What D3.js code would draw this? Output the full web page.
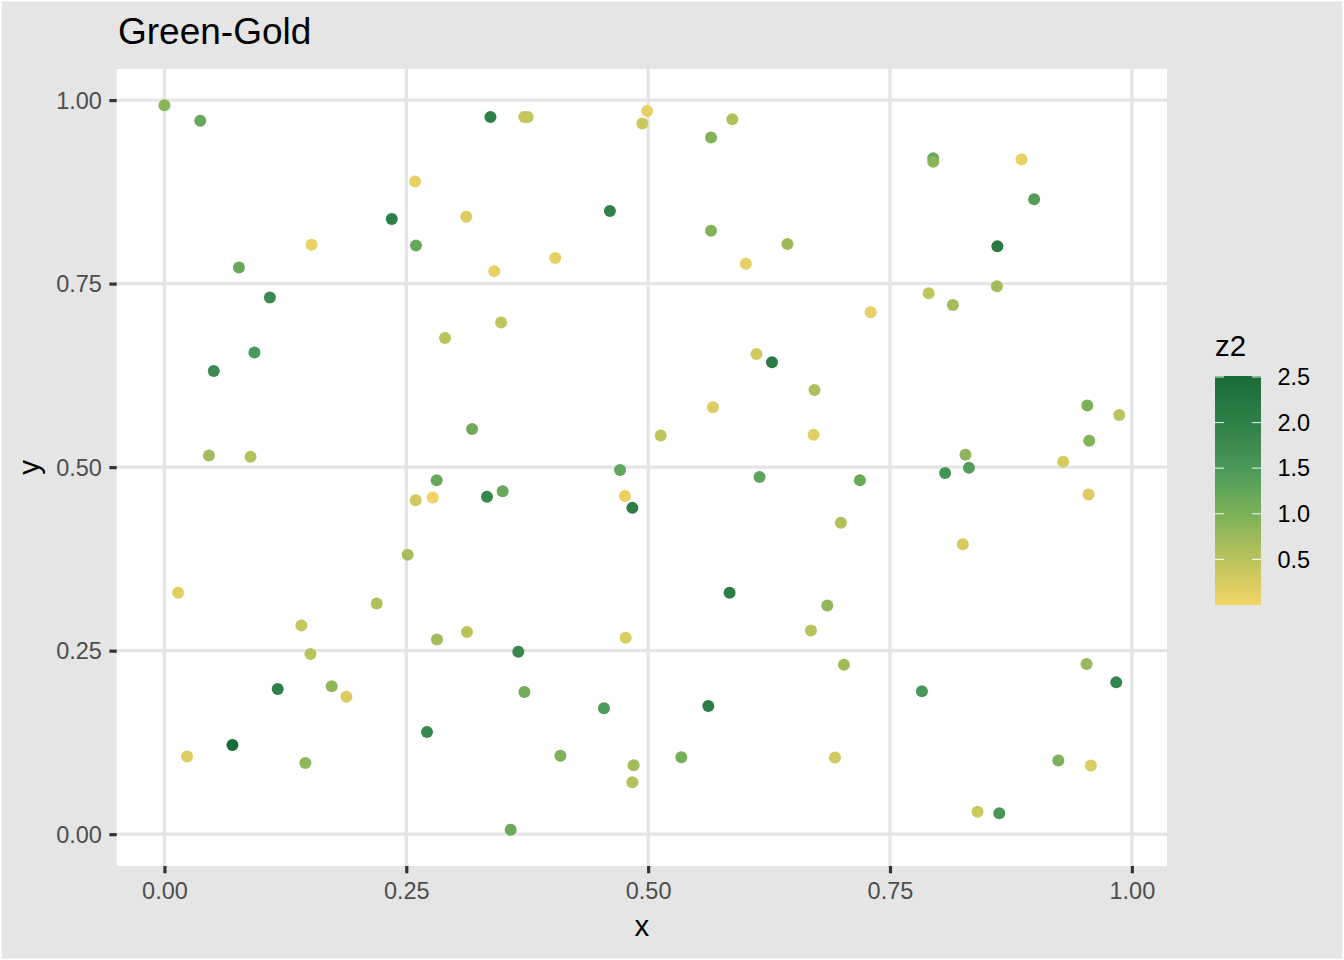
<!DOCTYPE html>
<html lang="en">
<head>
    <meta charset="UTF-8" />
    <title>Green-Gold</title>
    <script src="https://d3js.org/d3.v7.min.js"></script>
    <style>
        body { margin: 0; background: #ffffff; }
        text { font-family: "Liberation Sans", Arial, sans-serif; }
    </style>
</head>

<body>
    <script>
        // data
        var xs = [0.000, 0.037, 0.259, 0.235, 0.312, 0.152, 0.260, 0.077, 0.109, 0.290,
                  0.093, 0.051, 0.318, 0.046, 0.089, 0.337, 0.372, 0.3755, 0.499, 0.494,
                  0.587, 0.565, 0.4605, 0.565, 0.644, 0.404, 0.341, 0.601, 0.348, 0.612,
                  0.628, 0.672, 0.567, 0.513, 0.671, 0.471, 0.7947, 0.7947, 0.886, 0.899,
                  0.861, 0.8605, 0.790, 0.815, 0.730, 0.954, 0.987, 0.956, 0.828, 0.929,
                  0.8316, 0.807, 0.2814, 0.2597, 0.2773, 0.2514, 0.0141, 0.2194, 0.1416, 0.3127,
                  0.2817, 0.1509, 0.1171, 0.1729, 0.1881, 0.2714, 0.0703, 0.0234, 0.1457, 0.3496,
                  0.3334, 0.476, 0.4837, 0.6152, 0.5842, 0.4768, 0.6683, 0.3658, 0.3721, 0.4543,
                  0.5622, 0.4093, 0.485, 0.4837, 0.5343, 0.3579, 0.7189, 0.9553, 0.6993, 0.8253,
                  0.6852, 0.7024, 0.9532, 0.9839, 0.783, 0.6931, 0.924, 0.9576, 0.8405, 0.863];
        var ys = [0.993, 0.972, 0.889, 0.838, 0.841, 0.803, 0.802, 0.772, 0.731, 0.676,
                  0.656, 0.631, 0.552, 0.516, 0.514, 0.977, 0.977, 0.977, 0.985, 0.968,
                  0.974, 0.949, 0.849, 0.822, 0.804, 0.785, 0.767, 0.777, 0.697, 0.654,
                  0.643, 0.605, 0.5815, 0.543, 0.544, 0.496, 0.9207, 0.916, 0.919, 0.865,
                  0.801, 0.7465, 0.737, 0.721, 0.711, 0.584, 0.571, 0.536, 0.517, 0.5075,
                  0.499, 0.492, 0.482, 0.455, 0.4585, 0.3805, 0.3288, 0.3143, 0.2844, 0.2754,
                  0.2653, 0.2454, 0.1978, 0.2014, 0.1873, 0.1393, 0.1216, 0.1057, 0.0971, 0.4672,
                  0.4595, 0.4608, 0.4445, 0.4867, 0.3289, 0.2676, 0.2776, 0.2486, 0.1937, 0.1714,
                  0.1747, 0.1067, 0.0939, 0.0708, 0.1048, 0.006, 0.4822, 0.4626, 0.4241, 0.3951,
                  0.3116, 0.2309, 0.2318, 0.2068, 0.1946, 0.1044, 0.1003, 0.0935, 0.0305, 0.0286];
        var zs = [0.9, 1.2, 0.08, 2.0, 0.2, 0.05, 1.2, 1.2, 1.8, 0.5,
                  1.5, 1.75, 1.15, 0.7, 0.55, 2.0, 0.4, 0.4, 0.12, 0.35,
                  0.55, 0.95, 1.95, 0.95, 0.75, 0.1, 0.08, 0.1, 0.45, 0.3,
                  2.1, 0.6, 0.2, 0.45, 0.15, 1.25, 1.2, 0.9, 0.08, 1.4,
                  2.15, 0.7, 0.45, 0.7, 0.1, 1.0, 0.5, 0.95, 0.85, 0.25,
                  1.4, 1.6, 1.2, 0.3, 0.0, 0.65, 0.15, 0.6, 0.4, 0.5,
                  0.7, 0.5, 2.0, 0.85, 0.2, 1.85, 2.51, 0.2, 0.85, 1.2,
                  1.85, 0.1, 2.05, 1.3, 2.05, 0.2, 0.5, 1.85, 1.1, 1.45,
                  2.05, 1.0, 0.7, 0.55, 1.05, 1.15, 1.2, 0.2, 0.55, 0.25,
                  0.85, 0.7, 0.8, 1.9, 1.5, 0.3, 1.0, 0.2, 0.35, 1.55];

        var xTicks = [0, 0.25, 0.5, 0.75, 1];
        var yTicks = [0, 0.25, 0.5, 0.75, 1];
        var zTicks = [0.5, 1.0, 1.5, 2.0, 2.5];
        var paletteStops = ["#f2d466", "#bac25c", "#7bb159", "#48995a", "#2f7f49", "#196b37"];

        var w = 1344;
        var h = 960;
        var panel = { left: 116.7, right: 1167, top: 69, bottom: 866 };

        var points = xs.map(function(x, i) {
            return { x: x, y: ys[i], z: zs[i] };
        });

        var svg = d3.select("body")
            .append("svg")
            .attr("width", w)
            .attr("height", h);

        // plot background
        svg.append("rect")
            .attr("x", 1.5)
            .attr("y", 1.5)
            .attr("width", w - 3)
            .attr("height", h - 3)
            .attr("fill", "#e5e5e5");

        // panel
        svg.append("rect")
            .attr("x", panel.left)
            .attr("y", panel.top)
            .attr("width", panel.right - panel.left)
            .attr("height", panel.bottom - panel.top)
            .attr("fill", "#ffffff");

        // ggplot style 5% expansion
        function expand(ext) {
            var pad = (ext[1] - ext[0]) * 0.05;
            return [ext[0] - pad, ext[1] + pad];
        }

        var xScale = d3.scaleLinear()
            .domain(expand(d3.extent(xs)))
            .range([panel.left, panel.right]);

        var yScale = d3.scaleLinear()
            .domain(expand(d3.extent(ys)))
            .range([panel.bottom, panel.top]);

        var zExtent = d3.extent(zs);
        var stopDomain = d3.range(paletteStops.length).map(function(i) {
            return zExtent[0] + (zExtent[1] - zExtent[0]) * i / (paletteStops.length - 1);
        });
        var colour = d3.scaleLinear()
            .domain(stopDomain)
            .range(paletteStops)
            .interpolate(d3.interpolateLab);

        // grid lines
        svg.append("g")
            .selectAll("line")
            .data(xTicks)
            .enter()
            .append("line")
            .attr("x1", function(d) { return xScale(d); })
            .attr("x2", function(d) { return xScale(d); })
            .attr("y1", panel.top)
            .attr("y2", panel.bottom)
            .attr("stroke", "#e5e5e5")
            .attr("stroke-width", 3.3);

        svg.append("g")
            .selectAll("line")
            .data(yTicks)
            .enter()
            .append("line")
            .attr("x1", panel.left)
            .attr("x2", panel.right)
            .attr("y1", function(d) { return yScale(d); })
            .attr("y2", function(d) { return yScale(d); })
            .attr("stroke", "#e5e5e5")
            .attr("stroke-width", 3.3);

        // points
        svg.append("g")
            .selectAll("circle")
            .data(points)
            .enter()
            .append("circle")
            .attr("cx", function(d) { return xScale(d.x); })
            .attr("cy", function(d) { return yScale(d.y); })
            .attr("r", 6)
            .attr("fill", function(d) { return colour(d.z); });

        // axes
        var xAxis = d3.axisBottom(xScale)
            .tickValues(xTicks)
            .tickFormat(d3.format(".2f"))
            .tickSize(7.3)
            .tickPadding(9);

        var yAxis = d3.axisLeft(yScale)
            .tickValues(yTicks)
            .tickFormat(d3.format(".2f"))
            .tickSize(7.3)
            .tickPadding(7.5);

        var gx = svg.append("g")
            .attr("transform", "translate(0," + panel.bottom + ")")
            .call(xAxis);

        var gy = svg.append("g")
            .attr("transform", "translate(" + panel.left + ",0)")
            .call(yAxis);

        [gx, gy].forEach(function(g) {
            g.select(".domain").remove();
            g.selectAll(".tick line")
                .attr("stroke", "#333333")
                .attr("stroke-width", 3.2);
            g.selectAll(".tick text")
                .attr("fill", "#4d4d4d")
                .style("font-size", "23.5px")
                .style("font-family", "'Liberation Sans', Arial, sans-serif");
        });
        gx.selectAll(".tick text").attr("dy", "0.71em");
        gy.selectAll(".tick text").attr("dy", "0.35em");

        // axis titles
        svg.append("text")
            .attr("x", (panel.left + panel.right) / 2)
            .attr("y", 936)
            .attr("text-anchor", "middle")
            .style("font-size", "29.4px")
            .text("x");

        svg.append("text")
            .attr("transform", "translate(39," + (panel.top + panel.bottom) / 2 + ") rotate(-90)")
            .attr("text-anchor", "middle")
            .style("font-size", "29.4px")
            .text("y");

        // title
        svg.append("text")
            .attr("x", 118)
            .attr("y", 43.5)
            .style("font-size", "37px")
            .text("Green-Gold");

        // colour bar legend
        var bar = { x: 1215, y: 376, w: 46, h: 229 };

        var legendScale = d3.scaleLinear()
            .domain(zExtent)
            .range([bar.y + bar.h, bar.y]);

        var grad = svg.append("defs")
            .append("linearGradient")
            .attr("id", "zgrad")
            .attr("x1", 0).attr("y1", 1)
            .attr("x2", 0).attr("y2", 0);

        grad.selectAll("stop")
            .data(d3.range(21))
            .enter()
            .append("stop")
            .attr("offset", function(d) { return d / 20; })
            .attr("stop-color", function(d) {
                return colour(zExtent[0] + (zExtent[1] - zExtent[0]) * d / 20);
            });

        svg.append("rect")
            .attr("x", bar.x)
            .attr("y", bar.y)
            .attr("width", bar.w)
            .attr("height", bar.h)
            .attr("fill", "url(#zgrad)");

        var legendTicks = svg.append("g")
            .selectAll("g")
            .data(zTicks)
            .enter()
            .append("g");

        legendTicks.append("line")
            .attr("x1", bar.x)
            .attr("x2", bar.x + 9)
            .attr("y1", function(d) { return legendScale(d); })
            .attr("y2", function(d) { return legendScale(d); })
            .attr("stroke", "#ffffff")
            .attr("stroke-opacity", 0.8)
            .attr("stroke-width", 1.2);

        legendTicks.append("line")
            .attr("x1", bar.x + bar.w - 9)
            .attr("x2", bar.x + bar.w)
            .attr("y1", function(d) { return legendScale(d); })
            .attr("y2", function(d) { return legendScale(d); })
            .attr("stroke", "#ffffff")
            .attr("stroke-opacity", 0.8)
            .attr("stroke-width", 1.2);

        legendTicks.append("text")
            .attr("x", bar.x + bar.w + 16.5)
            .attr("y", function(d) { return legendScale(d); })
            .attr("dy", "0.35em")
            .attr("fill", "#000000")
            .style("font-size", "23.5px")
            .text(function(d) { return d3.format(".1f")(d); });

        svg.append("text")
            .attr("x", 1215)
            .attr("y", 356)
            .style("font-size", "29.4px")
            .text("z2");
    </script>
</body>
</html>
